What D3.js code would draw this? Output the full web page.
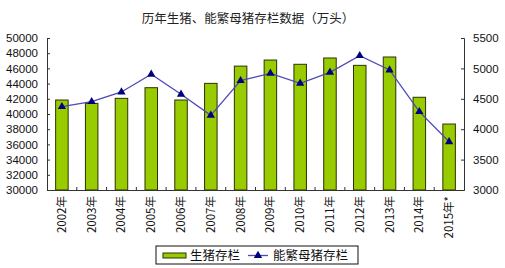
<!DOCTYPE html>
<html>
<head>
<meta charset="utf-8">
<script src="https://cdn.jsdelivr.net/npm/d3@7"></script>
<style>
  body { margin: 0; background: #fff; }
  text { font-family: "Liberation Sans", Arial, sans-serif; }
  .cjk { font-family: "Noto Sans CJK SC", sans-serif; }
</style>
</head>
<body>
<div class="container"></div>
<script>
const years = ["2002年","2003年","2004年","2005年","2006年","2007年","2008年","2009年","2010年","2011年","2012年","2013年","2014年","2015年*"]
const hogStock = [41840, 41400, 42060, 43460, 41840, 44030, 46300, 47100, 46540, 47370, 46400, 47500, 42200, 38680]
const sowStock = [4370, 4452, 4612, 4903, 4574, 4228, 4798, 4918, 4754, 4936, 5209, 4974, 4288, 3794]
const leftTicks = [30000, 32000, 34000, 36000, 38000, 40000, 42000, 44000, 46000, 48000, 50000]
const rightTicks = [3000, 3500, 4000, 4500, 5000, 5500]

const width = 505, height = 268
const plotL = 47, plotR = 464, plotT = 38, plotB = 190

const svg = d3.select(".container")
              .append("svg")
              .attr("width", width)
              .attr("height", height)

const x = d3.scaleBand().domain(years).range([plotL, plotR]).paddingInner(0.58).paddingOuter(0.29)
const yL = d3.scaleLinear().domain([30000, 50000]).range([plotB, plotT])
const yR = d3.scaleLinear().domain([3000, 5500]).range([plotB, plotT])

// title
svg.append("text")
   .attr("class", "cjk")
   .attr("x", 248)
   .attr("y", 23)
   .attr("text-anchor", "middle")
   .style("font-size", "12.5px")
   .attr("fill", "#222")
   .text("历年生猪、能繁母猪存栏数据（万头）")

// bars
svg.selectAll("rect.bar")
   .data(hogStock)
   .enter()
   .append("rect")
   .attr("class", "bar")
   .attr("x", (d, i) => x(years[i]))
   .attr("y", d => yL(d))
   .attr("width", x.bandwidth())
   .attr("height", d => plotB - yL(d))
   .attr("fill", "#99cc00")
   .attr("stroke", "#2b3300")
   .attr("stroke-width", 1)

// axes
const axisL = svg.append("g")
   .attr("transform", "translate(" + plotL + ",0)")
   .call(d3.axisLeft(yL).tickValues(leftTicks).tickSize(-3).tickPadding(9).tickFormat(d3.format("d")))
const axisR = svg.append("g")
   .attr("transform", "translate(" + plotR + ",0)")
   .call(d3.axisRight(yR).tickValues(rightTicks).tickSize(-3).tickPadding(9).tickFormat(d3.format("d")))
const axisB = svg.append("g")
   .attr("transform", "translate(0," + plotB + ")")
   .call(d3.axisBottom(x).tickSize(0).tickPadding(0).tickFormat(""))

// category boundary ticks
const gap = x.step() - x.bandwidth()
svg.selectAll("line.ctick")
   .data(years.slice(1))
   .enter()
   .append("line")
   .attr("class", "ctick")
   .attr("x1", d => x(d) - gap / 2)
   .attr("x2", d => x(d) - gap / 2)
   .attr("y1", plotB)
   .attr("y2", plotB - 3)
   .attr("stroke", "#333")

svg.selectAll("g.tick text")
   .style("font-size", "11.5px")
   .attr("fill", "#111")
for (const a of [axisL, axisR, axisB]) {
  a.select(".domain").attr("stroke", "#333")
  a.selectAll(".tick line").attr("stroke", "#333")
}

// x labels
svg.selectAll("text.xl")
   .data(years)
   .enter()
   .append("text")
   .attr("class", "cjk xl")
   .attr("transform", d => "translate(" + (x(d) + x.bandwidth() / 2 + 4) + "," + (plotB + 6) + ") rotate(-90)")
   .attr("text-anchor", "end")
   .style("font-size", "11.5px")
   .attr("fill", "#111")
   .text(d => d)

// line
const line = d3.line()
   .x((d, i) => x(years[i]) + x.bandwidth() / 2)
   .y(d => yR(d))
svg.append("path")
   .datum(sowStock)
   .attr("d", line)
   .attr("fill", "none")
   .attr("stroke", "#4a4ab8")
   .attr("stroke-width", 1.3)

const tri = d3.symbol().type(d3.symbolTriangle).size(30)
svg.selectAll("path.mk")
   .data(sowStock)
   .enter()
   .append("path")
   .attr("class", "mk")
   .attr("d", tri)
   .attr("transform", (d, i) => "translate(" + (x(years[i]) + x.bandwidth() / 2) + "," + yR(d) + ")")
   .attr("fill", "#000080")

// legend
const lg = svg.append("g").attr("transform", "translate(156,246)")
lg.append("rect").attr("width", 202).attr("height", 18).attr("fill", "#fff").attr("stroke", "#111")
lg.append("rect").attr("x", 7).attr("y", 7).attr("width", 23).attr("height", 5)
  .attr("fill", "#99cc00").attr("stroke", "#2b3300")
lg.append("text").attr("class", "cjk").attr("x", 34).attr("y", 14).style("font-size", "12.5px").attr("fill", "#111").text("生猪存栏")
lg.append("line").attr("x1", 92).attr("x2", 112).attr("y1", 9.5).attr("y2", 9.5).attr("stroke", "#4a4ab8").attr("stroke-width", 1.3)
lg.append("path").attr("d", tri).attr("transform", "translate(102,9.5)").attr("fill", "#000080")
lg.append("text").attr("class", "cjk").attr("x", 117).attr("y", 14).style("font-size", "12.5px").attr("fill", "#111").text("能繁母猪存栏")
</script>
</body>
</html>
